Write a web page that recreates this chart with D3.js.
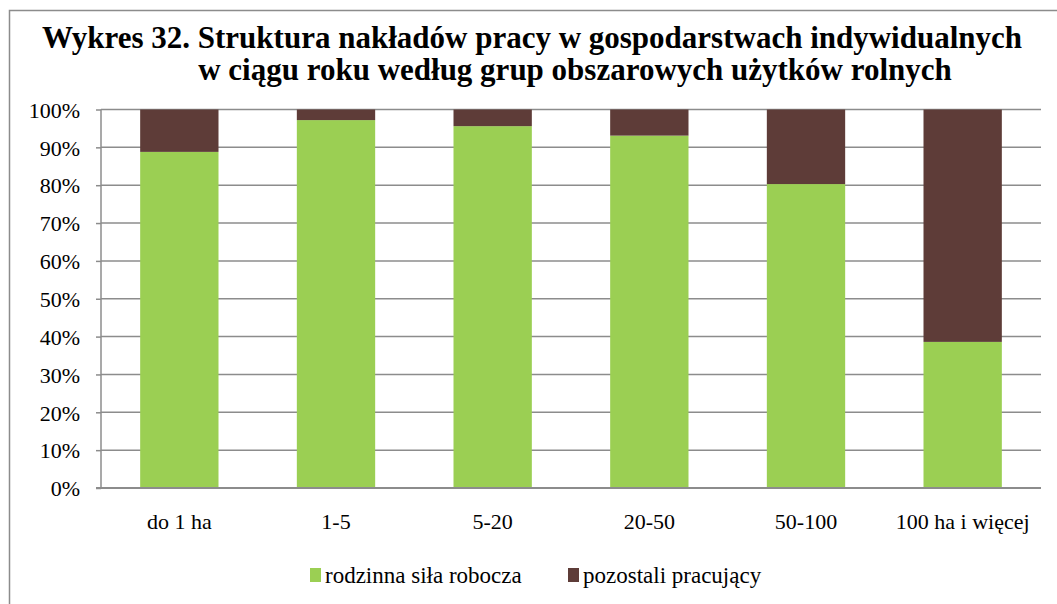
<!DOCTYPE html>
<html>
<head>
<meta charset="utf-8">
<script src="https://cdnjs.cloudflare.com/ajax/libs/d3/7.8.5/d3.min.js"></script>
<style>
  body { margin: 0; background: #fff; }
  text { font-family: "Liberation Serif", "Times New Roman", serif; fill: #000; }
</style>
</head>
<body>
<script>
// data
const categories = ["do 1 ha", "1-5", "5-20", "20-50", "50-100", "100 ha i więcej"];
const family = [88.8, 97.2, 95.6, 93.1, 80.3, 38.6]; // rodzinna siła robocza
const others = family.map(v => 100 - v);              // pozostali pracujący (reszta do 100%)
const seriesNames = ["rodzinna siła robocza", "pozostali pracujący"];
const colors = ["#9BCF53", "#5E3C38"];
const yTicks = [0, 10, 20, 30, 40, 50, 60, 70, 80, 90, 100];

const w = 1057, h = 604;
const pLeft = 101, pRight = 1041, pTop = 109.5, pBottom = 488;
const serif = '"Liberation Serif", "Times New Roman", serif';

const svg = d3.select("body").append("svg")
  .attr("width", w).attr("height", h);

// outer frame of the chart (cut off at right and bottom)
svg.append("rect")
  .attr("x", 9.5).attr("y", 10.5)
  .attr("width", 1200).attr("height", 800)
  .attr("fill", "none").attr("stroke", "#8c8c8c").attr("stroke-width", 1.5);

// title
const title = svg.append("text")
  .attr("text-anchor", "middle")
  .style("font-family", serif)
  .style("font-weight", "bold")
  .style("font-size", "31px");
title.append("tspan").attr("x", 532).attr("y", 48)
  .text("Wykres 32. Struktura  nakładów pracy w gospodarstwach indywidualnych");
title.append("tspan").attr("x", 575).attr("y", 80)
  .text("w ciągu roku według grup obszarowych użytków rolnych");

const x = d3.scaleBand().domain(categories).range([pLeft, pRight]).paddingInner(0.5).paddingOuter(0.25);
const y = d3.scaleLinear().domain([0, 100]).range([pBottom, pTop]);

// gridlines
svg.append("g").selectAll("line")
  .data(yTicks.filter(t => t > 0))
  .enter().append("line")
  .attr("x1", pLeft).attr("x2", pRight)
  .attr("y1", d => y(d)).attr("y2", d => y(d))
  .attr("stroke", "#8c8c8c").attr("stroke-width", 1.5);

// stacked bars
const rows = categories.map((c, i) => ({ cat: c, a: family[i], b: others[i] }));
const stack = d3.stack().keys(["a", "b"])(rows);
svg.append("g").selectAll("g")
  .data(stack)
  .enter().append("g")
  .attr("fill", (d, i) => colors[i])
  .selectAll("rect")
  .data(d => d)
  .enter().append("rect")
  .attr("x", d => x(d.data.cat))
  .attr("width", x.bandwidth())
  .attr("y", d => y(d[1]))
  .attr("height", d => y(d[0]) - y(d[1]));

// y axis
const yAxis = d3.axisLeft(y).tickValues(yTicks).tickFormat(d => d + "%").tickSize(5).tickPadding(16);
const gy = svg.append("g").attr("transform", `translate(${pLeft},0)`).call(yAxis);
gy.select(".domain").attr("stroke", "#8c8c8c").attr("stroke-width", 1.5).attr("d", `M0,${pTop}V${pBottom}`);
gy.selectAll(".tick line").attr("stroke", "#8c8c8c").attr("stroke-width", 1.5);
gy.selectAll(".tick text").style("font-size", "22px").style("font-family", serif).attr("dy", "0.35em");

// x axis
const xAxis = d3.axisBottom(x).tickSize(0).tickPadding(25);
const gx = svg.append("g").attr("transform", `translate(0,${pBottom})`).call(xAxis);
gx.select(".domain").attr("stroke", "#8c8c8c").attr("stroke-width", 2).attr("d", `M${pLeft - 5},0H${pRight}`);
gx.selectAll(".tick text").style("font-size", "22px").style("font-family", serif).attr("dy", "0.71em");

// legend
const legend = svg.append("g");
const legX = [310, 568];
seriesNames.forEach((n, i) => {
  legend.append("rect").attr("x", legX[i]).attr("y", 568).attr("width", 11).attr("height", 14).attr("fill", colors[i]);
  legend.append("text").attr("x", legX[i] + 15).attr("y", 583)
    .style("font-family", serif).style("font-size", "23px").text(n);
});
</script>
</body>
</html>
